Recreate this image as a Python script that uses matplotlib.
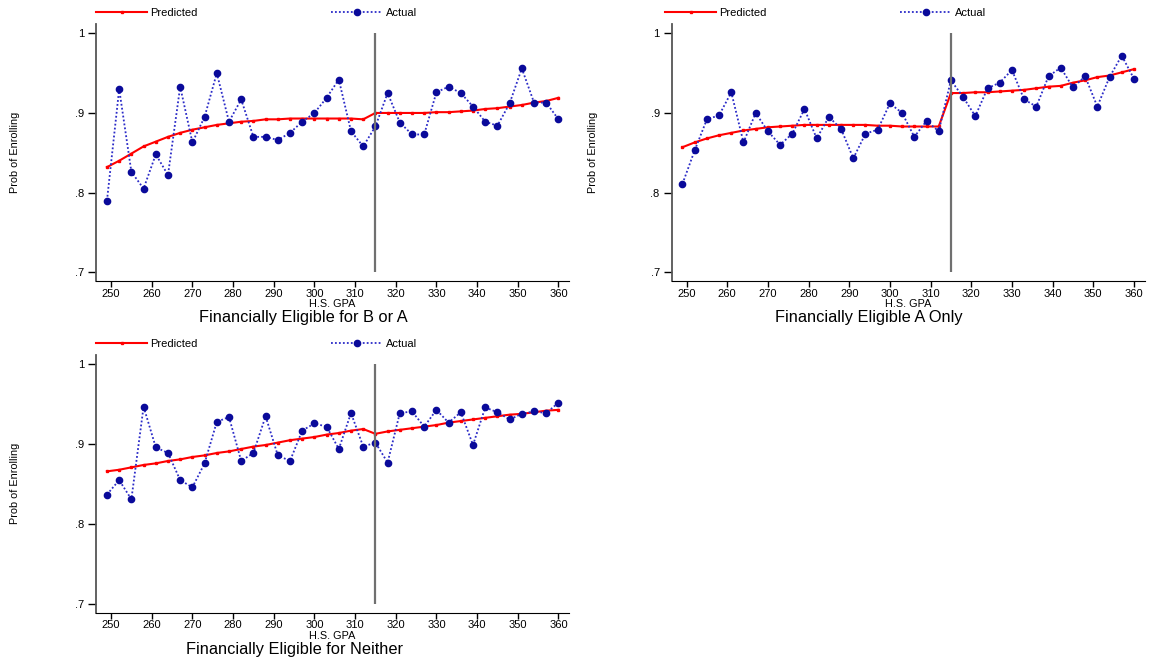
import matplotlib
matplotlib.use("Agg")
import matplotlib.pyplot as plt

plt.rcParams['font.family'] = ['Liberation Sans', 'DejaVu Sans']

# GPA bins (x) and cutoff
gpa = [249, 252, 255, 258, 261, 264, 267, 270, 273, 276, 279, 282, 285,
       288, 291, 294, 297, 300, 303, 306, 309, 312, 315, 318, 321, 324,
       327, 330, 333, 336, 339, 342, 345, 348, 351, 354, 357, 360]
cutoff = 315
x_ticks = [250, 260, 270, 280, 290, 300, 310, 320, 330, 340, 350, 360]
y_ticks = [0.7, 0.8, 0.9, 1.0]
y_tick_labels = ['.7', '.8', '.9', '1']

# Financially Eligible for B or A
actual_ba = [0.790, 0.930, 0.826, 0.805, 0.848, 0.822, 0.933, 0.863, 0.895, 0.950,
             0.889, 0.917, 0.870, 0.870, 0.866, 0.875, 0.889, 0.900, 0.919, 0.942,
             0.877, 0.858, 0.883, 0.925, 0.888, 0.873, 0.873, 0.926, 0.933, 0.925,
             0.908, 0.889, 0.884, 0.912, 0.956, 0.913, 0.913, 0.892]
pred_ba = [0.832, 0.840, 0.849, 0.858, 0.864, 0.870, 0.875, 0.879, 0.882, 0.885,
           0.887, 0.889, 0.890, 0.892, 0.892, 0.893, 0.893, 0.893, 0.893, 0.893,
           0.893, 0.892, 0.900, 0.900, 0.900, 0.900, 0.900, 0.901, 0.901, 0.902,
           0.903, 0.905, 0.906, 0.908, 0.910, 0.913, 0.915, 0.919]

# Financially Eligible A Only
actual_a = [0.811, 0.853, 0.892, 0.897, 0.926, 0.863, 0.900, 0.877, 0.860, 0.874,
            0.905, 0.868, 0.895, 0.880, 0.843, 0.874, 0.879, 0.912, 0.900, 0.870,
            0.890, 0.877, 0.941, 0.920, 0.896, 0.931, 0.938, 0.954, 0.917, 0.908,
            0.946, 0.957, 0.932, 0.946, 0.908, 0.945, 0.972, 0.943]
pred_a = [0.857, 0.863, 0.868, 0.872, 0.875, 0.878, 0.880, 0.882, 0.883, 0.884,
          0.885, 0.885, 0.885, 0.885, 0.885, 0.885, 0.884, 0.884, 0.883, 0.883,
          0.883, 0.883, 0.925, 0.925, 0.926, 0.926, 0.927, 0.928, 0.929, 0.931,
          0.933, 0.934, 0.938, 0.941, 0.945, 0.947, 0.951, 0.955]

# Financially Eligible for Neither
actual_n = [0.837, 0.855, 0.831, 0.947, 0.896, 0.889, 0.855, 0.846, 0.876, 0.928,
            0.934, 0.879, 0.889, 0.935, 0.886, 0.879, 0.917, 0.926, 0.922, 0.894,
            0.939, 0.897, 0.902, 0.877, 0.939, 0.941, 0.922, 0.943, 0.927, 0.940,
            0.899, 0.946, 0.940, 0.931, 0.938, 0.941, 0.939, 0.952]
pred_n = [0.866, 0.868, 0.871, 0.874, 0.876, 0.879, 0.881, 0.884, 0.886, 0.889,
          0.891, 0.894, 0.897, 0.899, 0.902, 0.905, 0.907, 0.909, 0.912, 0.914,
          0.917, 0.919, 0.913, 0.916, 0.918, 0.920, 0.922, 0.924, 0.927, 0.929,
          0.931, 0.933, 0.935, 0.937, 0.938, 0.940, 0.942, 0.943]

W, H = 1149, 661


def dibujar_panel(fig, rect, pred, actual, titulo, title_x, legend_x, ylab_x):
    """Draw one Stata-style RD panel."""
    ax = fig.add_axes(rect)
    ax.plot(gpa, pred, color='#ff0000', lw=1.5, marker='s', ms=1.5,
            label='Predicted')
    ax.plot(gpa, actual, color='#2b2bc8', lw=1.3, ls=(0, (1, 1.2)),
            marker='o', ms=3.0, mfc='white', mec='#0a0a9a', mew=2.5,
            label='Actual')
    ax.vlines(cutoff, 0.7, 1.0, color='#707070', lw=1.6)

    ax.set_xlim(246.3, 362.6)
    ax.set_ylim(0.689, 1.0117)
    ax.set_xticks(x_ticks)
    ax.set_yticks(y_ticks)
    ax.set_yticklabels(y_tick_labels)
    for s in ['top', 'right']:
        ax.spines[s].set_visible(False)
    ax.spines['left'].set_color('#555555')
    ax.spines['left'].set_linewidth(1.3)
    ax.tick_params(axis='x', length=4, width=1, pad=1.5, labelsize=8.0)
    ax.tick_params(axis='y', length=6, width=1, pad=2.5, labelsize=8.0)

    pos = ax.get_position()
    fig.text((pos.x0 + pos.x1) / 2, pos.y0 - 23 / H, 'H.S. GPA',
             ha='center', va='center', fontsize=7.8)
    fig.text(title_x / W, pos.y0 - 37 / H, titulo, ha='center', va='center',
             fontsize=11.8)
    fig.text(ylab_x / W, (pos.y0 + pos.y1) / 2, 'Prob of Enrolling',
             rotation=90, ha='center', va='center', fontsize=7.8)

    ax.legend(loc='lower left', bbox_to_anchor=(legend_x / W, pos.y1 + 6 / H),
              bbox_transform=fig.transFigure, ncol=2, frameon=False,
              fontsize=8.0, handlelength=4.6, handletextpad=0.3,
              columnspacing=12.0, borderpad=0, borderaxespad=0, numpoints=1)
    return ax


fig = plt.figure(figsize=(W / 100, H / 100), dpi=100)

w = 473 / W
h1 = 257 / H
dibujar_panel(fig, [96 / W, 1 - 281 / H, w, h1], pred_ba, actual_ba,
              'Financially Eligible for B or A', 303, 96, 15)
dibujar_panel(fig, [671.5 / W, 1 - 281 / H, w, h1], pred_a, actual_a,
              'Financially Eligible A Only', 869, 665, 593)
dibujar_panel(fig, [96 / W, 1 - 612.7 / H, w, 257.7 / H], pred_n, actual_n,
              'Financially Eligible for Neither', 294, 96, 15)

fig.savefig('out.png', dpi=100)
